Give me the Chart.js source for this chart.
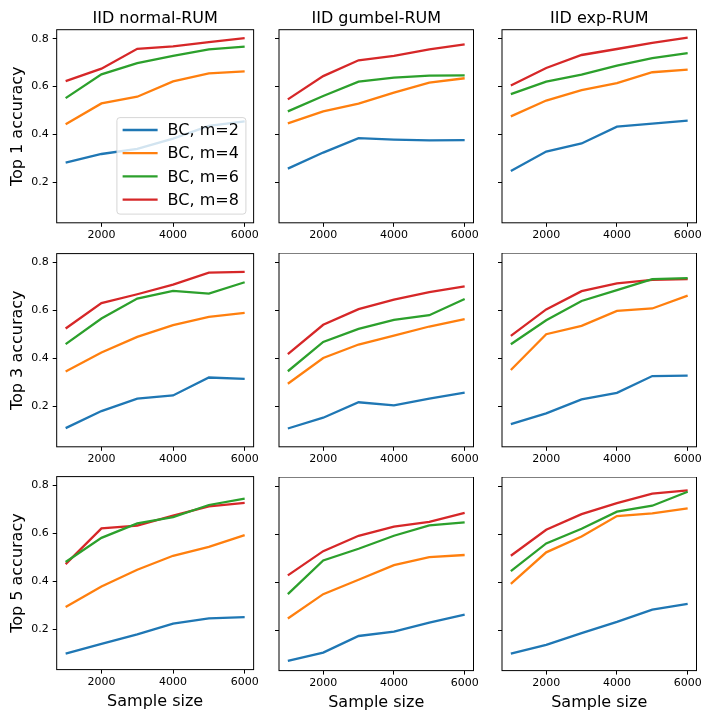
<!DOCTYPE html>
<html><head><meta charset="utf-8">
<script src="https://cdn.jsdelivr.net/npm/chart.js@4.4.1/dist/chart.umd.min.js"></script>
<style>
html,body{margin:0;padding:0;background:#fff;}
#fig{position:relative;width:720px;height:720px;overflow:hidden;background:#fff;}
.cell{position:absolute;}
.cell canvas{display:block;}
</style></head><body><div id="fig"></div>
<script>
const sampleSizes = [1000, 2000, 3000, 4000, 5000, 6000];
const seriesLabels = ['BC, m=2', 'BC, m=4', 'BC, m=6', 'BC, m=8'];
const seriesColors = ['#1f77b4', '#ff7f0e', '#2ca02c', '#d62728'];
const columnTitles = ['IID normal-RUM', 'IID gumbel-RUM', 'IID exp-RUM'];
const rowTitles = ['Top 1 accuracy', 'Top 3 accuracy', 'Top 5 accuracy'];
const xAxisLabel = 'Sample size';
const xTickValues = [2000, 4000, 6000];
const yTickValues = [0.2, 0.4, 0.6, 0.8];

// each: [m=2, m=4, m=6, m=8]
const top1Normal = [
  [0.283, 0.319, 0.340, 0.383, 0.436, 0.455],
  [0.443, 0.530, 0.558, 0.622, 0.655, 0.664],
  [0.552, 0.651, 0.698, 0.728, 0.755, 0.767],
  [0.623, 0.675, 0.758, 0.768, 0.786, 0.802]
];
const top1Gumbel = [
  [0.258, 0.325, 0.385, 0.379, 0.376, 0.377],
  [0.447, 0.497, 0.529, 0.575, 0.617, 0.635],
  [0.497, 0.561, 0.621, 0.638, 0.646, 0.647],
  [0.547, 0.644, 0.710, 0.728, 0.755, 0.776]
];
const top1Exp = [
  [0.248, 0.329, 0.363, 0.433, 0.446, 0.458],
  [0.476, 0.542, 0.585, 0.615, 0.660, 0.671],
  [0.569, 0.621, 0.650, 0.688, 0.719, 0.740],
  [0.605, 0.678, 0.732, 0.757, 0.783, 0.804]
];
const top3Normal = [
  [0.110, 0.181, 0.233, 0.246, 0.321, 0.315],
  [0.346, 0.425, 0.490, 0.539, 0.574, 0.590],
  [0.460, 0.567, 0.650, 0.682, 0.671, 0.718],
  [0.525, 0.631, 0.668, 0.708, 0.758, 0.761]
];
const top3Gumbel = [
  [0.108, 0.153, 0.217, 0.204, 0.232, 0.257],
  [0.294, 0.401, 0.457, 0.494, 0.532, 0.563],
  [0.346, 0.468, 0.522, 0.560, 0.579, 0.646],
  [0.417, 0.539, 0.604, 0.644, 0.675, 0.699]
];
const top3Exp = [
  [0.126, 0.171, 0.229, 0.256, 0.326, 0.328],
  [0.351, 0.500, 0.535, 0.597, 0.607, 0.660],
  [0.458, 0.558, 0.638, 0.683, 0.729, 0.733],
  [0.493, 0.603, 0.679, 0.711, 0.726, 0.729]
];
const top5Normal = [
  [0.099, 0.139, 0.179, 0.224, 0.246, 0.251],
  [0.293, 0.379, 0.449, 0.507, 0.544, 0.593],
  [0.481, 0.582, 0.642, 0.668, 0.719, 0.746],
  [0.472, 0.621, 0.633, 0.675, 0.713, 0.728]
];
const top5Gumbel = [
  [0.072, 0.107, 0.176, 0.194, 0.232, 0.265],
  [0.249, 0.350, 0.410, 0.471, 0.504, 0.513],
  [0.350, 0.490, 0.539, 0.593, 0.636, 0.649],
  [0.428, 0.529, 0.593, 0.631, 0.651, 0.688]
];
const top5Exp = [
  [0.103, 0.139, 0.188, 0.235, 0.286, 0.310],
  [0.393, 0.524, 0.590, 0.675, 0.686, 0.707],
  [0.446, 0.561, 0.622, 0.693, 0.718, 0.776],
  [0.510, 0.618, 0.683, 0.729, 0.768, 0.782]
];

const panelData = [
  [top1Normal, top1Gumbel, top1Exp],
  [top3Normal, top3Gumbel, top3Exp],
  [top5Normal, top5Gumbel, top5Exp]
];

// layout of plot areas (figure pixels)
const colLeft = [56.5, 279, 502];
const rowTop = [29.3, 253.3, 476.5];
const areaW = 200, areaH = 193.5;
const X_MIN = 750, X_MAX = 6250, Y_MIN = 0.032, Y_MAX = 0.8375;
const FONT = 'DejaVu Sans';

const framePlugin = {
  id: 'frame',
  afterDatasetsDraw(chart) {
    const { ctx, chartArea: a } = chart;
    ctx.save();
    ctx.strokeStyle = '#000';
    ctx.lineWidth = 1;
    ctx.strokeRect(a.left, a.top, a.right - a.left, a.bottom - a.top);
    ctx.restore();
  }
};

const insideLegend = {
  id: 'insideLegend',
  afterDraw(chart, args, opts) {
    if (!opts || !opts.show) return;
    const { ctx, chartArea: a } = chart;
    const w = 129, h = 96.5;
    const x0 = a.right - 7.7 - w, y0 = a.bottom - 8.7 - h, r = 3;
    ctx.save();
    ctx.beginPath();
    ctx.moveTo(x0 + r, y0);
    ctx.lineTo(x0 + w - r, y0); ctx.quadraticCurveTo(x0 + w, y0, x0 + w, y0 + r);
    ctx.lineTo(x0 + w, y0 + h - r); ctx.quadraticCurveTo(x0 + w, y0 + h, x0 + w - r, y0 + h);
    ctx.lineTo(x0 + r, y0 + h); ctx.quadraticCurveTo(x0, y0 + h, x0, y0 + h - r);
    ctx.lineTo(x0, y0 + r); ctx.quadraticCurveTo(x0, y0, x0 + r, y0);
    ctx.closePath();
    ctx.fillStyle = 'rgba(255,255,255,0.8)';
    ctx.fill();
    ctx.strokeStyle = 'rgba(204,204,204,0.8)';
    ctx.lineWidth = 1;
    ctx.stroke();
    ctx.font = '16px "' + FONT + '"';
    ctx.textBaseline = 'middle';
    ctx.fillStyle = '#000';
    chart.data.datasets.forEach((ds, i) => {
      const cy = y0 + 12.4 + i * 23.2;
      ctx.strokeStyle = ds.borderColor;
      ctx.lineWidth = ds.borderWidth;
      ctx.beginPath();
      ctx.moveTo(x0 + 5.7, cy); ctx.lineTo(x0 + 40.7, cy);
      ctx.stroke();
      ctx.fillText(ds.label, x0 + 50.7, cy + 1);
    });
    ctx.restore();
  }
};

function makeConfig(r, c) {
  const series = panelData[r][c];
  return {
    type: 'line',
    data: {
      labels: sampleSizes,
      datasets: series.map((vals, i) => ({
        label: seriesLabels[i],
        data: sampleSizes.map((x, k) => ({ x: x, y: vals[k] })),
        borderColor: seriesColors[i],
        backgroundColor: seriesColors[i],
        borderWidth: 2.3,
        pointRadius: 0,
        tension: 0,
        fill: false
      }))
    },
    options: {
      responsive: false,
      maintainAspectRatio: false,
      animation: false,
      events: [],
      layout: { padding: 0 },
      plugins: {
        legend: { display: false },
        tooltip: { enabled: false },
        title: {
          display: r === 0,
          fullSize: false,
          text: columnTitles[c],
          color: '#000',
          font: { family: FONT, size: 16, weight: 'normal' },
          padding: { top: 0, bottom: 1.5 }
        },
        insideLegend: { show: r === 0 && c === 0 }
      },
      scales: {
        x: {
          type: 'linear',
          min: X_MIN, max: X_MAX,
          afterBuildTicks: (s) => { s.ticks = xTickValues.map(v => ({ value: v })); },
          ticks: {
            autoSkip: false, maxRotation: 0, padding: 2,
            color: '#000',
            font: { family: FONT, size: 11 },
            callback: (v) => String(v)
          },
          grid: { drawOnChartArea: false, drawTicks: true, tickLength: 4, color: '#000', lineWidth: 1 },
          border: { display: false },
          title: {
            display: r === 2,
            text: xAxisLabel,
            color: '#000',
            font: { family: FONT, size: 16 },
            padding: { top: 1, bottom: 0 }
          }
        },
        y: {
          type: 'linear',
          min: Y_MIN, max: Y_MAX,
          afterBuildTicks: (s) => { s.ticks = yTickValues.map(v => ({ value: v })); },
          ticks: {
            display: c === 0,
            autoSkip: false, padding: 4,
            color: '#000',
            font: { family: FONT, size: 11 },
            callback: (v) => Number(v).toFixed(1)
          },
          grid: { drawOnChartArea: false, drawTicks: true, tickLength: 4, color: '#000', lineWidth: 1 },
          border: { display: false },
          title: {
            display: c === 0,
            text: rowTitles[r],
            color: '#000',
            font: { family: FONT, size: 16 },
            padding: { top: 0, bottom: 0 }
          }
        }
      }
    },
    plugins: [framePlugin, insideLegend]
  };
}

function makeCanvas(wrap, w, h) {
  wrap.innerHTML = '';
  const cv = document.createElement('canvas');
  cv.width = w; cv.height = h;
  cv.style.width = w + 'px'; cv.style.height = h + 'px';
  wrap.appendChild(cv);
  return cv;
}

const fig = document.getElementById('fig');
for (let r = 0; r < 3; r++) {
  for (let c = 0; c < 3; c++) {
    const wrap = document.createElement('div');
    wrap.className = 'cell';
    fig.appendChild(wrap);
    let W = 320, H = 300;
    let chart = new Chart(makeCanvas(wrap, W, H), makeConfig(r, c));
    let a = chart.chartArea;
    const nW = Math.round(W - (a.right - a.left) + areaW);
    const nH = Math.round(H - (a.bottom - a.top) + areaH);
    chart.destroy();
    chart = new Chart(makeCanvas(wrap, nW, nH), makeConfig(r, c));
    a = chart.chartArea;
    wrap.style.left = Math.round(colLeft[c] - a.left) + 'px';
    wrap.style.top = Math.round(rowTop[r] - a.top) + 'px';
  }
}
</script>
</body></html>
